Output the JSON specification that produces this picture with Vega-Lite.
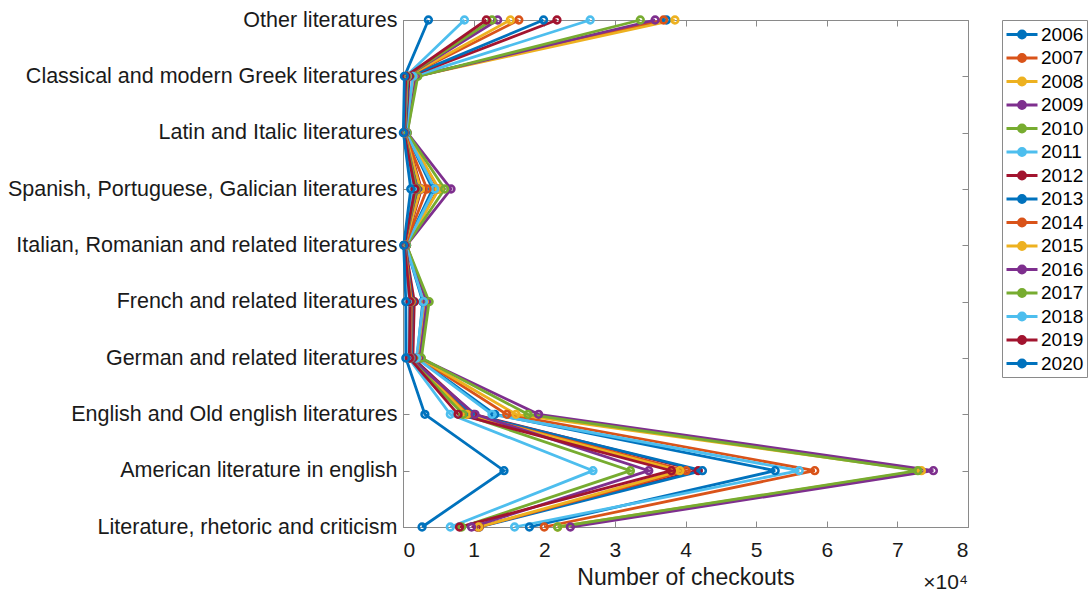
{
  "$schema": "https://vega.github.io/schema/vega-lite/v6.json",
  "width": 565,
  "height": 507,
  "autosize": {"type": "none"},
  "padding": {"left": 403, "top": 20, "right": 123, "bottom": 67},
  "background": "white",
  "config": {
    "view": {"stroke": "#8a8a8a", "strokeWidth": 1},
    "font": "Liberation Sans",
    "axis": {"grid": false, "domainColor": "#8a8a8a", "tickColor": "#8a8a8a", "labelColor": "#1a1a1a", "titleColor": "#1a1a1a", "labelFont": "Liberation Sans", "titleFont": "Liberation Sans"}
  },
  "title": {"text": "×10⁴", "orient": "bottom", "anchor": "end", "frame": "group", "fontSize": 21, "fontWeight": "normal", "color": "#1a1a1a", "offset": -17, "font": "Liberation Sans"},
  "data": {"values": [
    {"yr":"2006","c":"Other literatures","k":1,"v":37300},{"yr":"2007","c":"Other literatures","k":1,"v":36900},{"yr":"2008","c":"Other literatures","k":1,"v":38500},{"yr":"2009","c":"Other literatures","k":1,"v":35700},{"yr":"2010","c":"Other literatures","k":1,"v":33600},{"yr":"2011","c":"Other literatures","k":1,"v":26500},{"yr":"2012","c":"Other literatures","k":1,"v":21800},{"yr":"2013","c":"Other literatures","k":1,"v":19900},{"yr":"2014","c":"Other literatures","k":1,"v":16400},{"yr":"2015","c":"Other literatures","k":1,"v":15200},{"yr":"2016","c":"Other literatures","k":1,"v":13400},{"yr":"2017","c":"Other literatures","k":1,"v":12600},{"yr":"2018","c":"Other literatures","k":1,"v":8700},{"yr":"2019","c":"Other literatures","k":1,"v":11800},{"yr":"2020","c":"Other literatures","k":1,"v":3600},
    {"yr":"2006","c":"Classical and modern Greek literatures","k":2,"v":1500},{"yr":"2007","c":"Classical and modern Greek literatures","k":2,"v":1700},{"yr":"2008","c":"Classical and modern Greek literatures","k":2,"v":1800},{"yr":"2009","c":"Classical and modern Greek literatures","k":2,"v":1900},{"yr":"2010","c":"Classical and modern Greek literatures","k":2,"v":2100},{"yr":"2011","c":"Classical and modern Greek literatures","k":2,"v":1400},{"yr":"2012","c":"Classical and modern Greek literatures","k":2,"v":900},{"yr":"2013","c":"Classical and modern Greek literatures","k":2,"v":700},{"yr":"2014","c":"Classical and modern Greek literatures","k":2,"v":600},{"yr":"2015","c":"Classical and modern Greek literatures","k":2,"v":600},{"yr":"2016","c":"Classical and modern Greek literatures","k":2,"v":500},{"yr":"2017","c":"Classical and modern Greek literatures","k":2,"v":500},{"yr":"2018","c":"Classical and modern Greek literatures","k":2,"v":400},{"yr":"2019","c":"Classical and modern Greek literatures","k":2,"v":400},{"yr":"2020","c":"Classical and modern Greek literatures","k":2,"v":200},
    {"yr":"2006","c":"Latin and Italic literatures","k":3,"v":400},{"yr":"2007","c":"Latin and Italic literatures","k":3,"v":500},{"yr":"2008","c":"Latin and Italic literatures","k":3,"v":500},{"yr":"2009","c":"Latin and Italic literatures","k":3,"v":600},{"yr":"2010","c":"Latin and Italic literatures","k":3,"v":600},{"yr":"2011","c":"Latin and Italic literatures","k":3,"v":400},{"yr":"2012","c":"Latin and Italic literatures","k":3,"v":300},{"yr":"2013","c":"Latin and Italic literatures","k":3,"v":300},{"yr":"2014","c":"Latin and Italic literatures","k":3,"v":200},{"yr":"2015","c":"Latin and Italic literatures","k":3,"v":200},{"yr":"2016","c":"Latin and Italic literatures","k":3,"v":200},{"yr":"2017","c":"Latin and Italic literatures","k":3,"v":200},{"yr":"2018","c":"Latin and Italic literatures","k":3,"v":150},{"yr":"2019","c":"Latin and Italic literatures","k":3,"v":150},{"yr":"2020","c":"Latin and Italic literatures","k":3,"v":50},
    {"yr":"2006","c":"Spanish, Portuguese, Galician literatures","k":4,"v":4200},{"yr":"2007","c":"Spanish, Portuguese, Galician literatures","k":4,"v":5000},{"yr":"2008","c":"Spanish, Portuguese, Galician literatures","k":4,"v":5100},{"yr":"2009","c":"Spanish, Portuguese, Galician literatures","k":4,"v":6800},{"yr":"2010","c":"Spanish, Portuguese, Galician literatures","k":4,"v":5900},{"yr":"2011","c":"Spanish, Portuguese, Galician literatures","k":4,"v":4500},{"yr":"2012","c":"Spanish, Portuguese, Galician literatures","k":4,"v":2600},{"yr":"2013","c":"Spanish, Portuguese, Galician literatures","k":4,"v":2300},{"yr":"2014","c":"Spanish, Portuguese, Galician literatures","k":4,"v":3400},{"yr":"2015","c":"Spanish, Portuguese, Galician literatures","k":4,"v":2500},{"yr":"2016","c":"Spanish, Portuguese, Galician literatures","k":4,"v":2000},{"yr":"2017","c":"Spanish, Portuguese, Galician literatures","k":4,"v":1900},{"yr":"2018","c":"Spanish, Portuguese, Galician literatures","k":4,"v":1500},{"yr":"2019","c":"Spanish, Portuguese, Galician literatures","k":4,"v":1700},{"yr":"2020","c":"Spanish, Portuguese, Galician literatures","k":4,"v":1100},
    {"yr":"2006","c":"Italian, Romanian and related literatures","k":5,"v":400},{"yr":"2007","c":"Italian, Romanian and related literatures","k":5,"v":500},{"yr":"2008","c":"Italian, Romanian and related literatures","k":5,"v":500},{"yr":"2009","c":"Italian, Romanian and related literatures","k":5,"v":500},{"yr":"2010","c":"Italian, Romanian and related literatures","k":5,"v":500},{"yr":"2011","c":"Italian, Romanian and related literatures","k":5,"v":400},{"yr":"2012","c":"Italian, Romanian and related literatures","k":5,"v":300},{"yr":"2013","c":"Italian, Romanian and related literatures","k":5,"v":300},{"yr":"2014","c":"Italian, Romanian and related literatures","k":5,"v":300},{"yr":"2015","c":"Italian, Romanian and related literatures","k":5,"v":200},{"yr":"2016","c":"Italian, Romanian and related literatures","k":5,"v":200},{"yr":"2017","c":"Italian, Romanian and related literatures","k":5,"v":200},{"yr":"2018","c":"Italian, Romanian and related literatures","k":5,"v":200},{"yr":"2019","c":"Italian, Romanian and related literatures","k":5,"v":200},{"yr":"2020","c":"Italian, Romanian and related literatures","k":5,"v":100},
    {"yr":"2006","c":"French and related literatures","k":6,"v":2800},{"yr":"2007","c":"French and related literatures","k":6,"v":3100},{"yr":"2008","c":"French and related literatures","k":6,"v":3300},{"yr":"2009","c":"French and related literatures","k":6,"v":3400},{"yr":"2010","c":"French and related literatures","k":6,"v":3700},{"yr":"2011","c":"French and related literatures","k":6,"v":2900},{"yr":"2012","c":"French and related literatures","k":6,"v":1600},{"yr":"2013","c":"French and related literatures","k":6,"v":1300},{"yr":"2014","c":"French and related literatures","k":6,"v":1200},{"yr":"2015","c":"French and related literatures","k":6,"v":1100},{"yr":"2016","c":"French and related literatures","k":6,"v":1000},{"yr":"2017","c":"French and related literatures","k":6,"v":1000},{"yr":"2018","c":"French and related literatures","k":6,"v":900},{"yr":"2019","c":"French and related literatures","k":6,"v":1000},{"yr":"2020","c":"French and related literatures","k":6,"v":400},
    {"yr":"2006","c":"German and related literatures","k":7,"v":2000},{"yr":"2007","c":"German and related literatures","k":7,"v":2200},{"yr":"2008","c":"German and related literatures","k":7,"v":2300},{"yr":"2009","c":"German and related literatures","k":7,"v":2400},{"yr":"2010","c":"German and related literatures","k":7,"v":2600},{"yr":"2011","c":"German and related literatures","k":7,"v":1900},{"yr":"2012","c":"German and related literatures","k":7,"v":1400},{"yr":"2013","c":"German and related literatures","k":7,"v":1200},{"yr":"2014","c":"German and related literatures","k":7,"v":1100},{"yr":"2015","c":"German and related literatures","k":7,"v":1000},{"yr":"2016","c":"German and related literatures","k":7,"v":1000},{"yr":"2017","c":"German and related literatures","k":7,"v":900},{"yr":"2018","c":"German and related literatures","k":7,"v":800},{"yr":"2019","c":"German and related literatures","k":7,"v":900},{"yr":"2020","c":"German and related literatures","k":7,"v":400},
    {"yr":"2006","c":"English and Old english literatures","k":8,"v":13000},{"yr":"2007","c":"English and Old english literatures","k":8,"v":14700},{"yr":"2008","c":"English and Old english literatures","k":8,"v":16000},{"yr":"2009","c":"English and Old english literatures","k":8,"v":19200},{"yr":"2010","c":"English and Old english literatures","k":8,"v":17700},{"yr":"2011","c":"English and Old english literatures","k":8,"v":12600},{"yr":"2012","c":"English and Old english literatures","k":8,"v":10000},{"yr":"2013","c":"English and Old english literatures","k":8,"v":9500},{"yr":"2014","c":"English and Old english literatures","k":8,"v":9200},{"yr":"2015","c":"English and Old english literatures","k":8,"v":9000},{"yr":"2016","c":"English and Old english literatures","k":8,"v":10200},{"yr":"2017","c":"English and Old english literatures","k":8,"v":8500},{"yr":"2018","c":"English and Old english literatures","k":8,"v":6700},{"yr":"2019","c":"English and Old english literatures","k":8,"v":7800},{"yr":"2020","c":"English and Old english literatures","k":8,"v":3100},
    {"yr":"2006","c":"American literature in english","k":9,"v":52700},{"yr":"2007","c":"American literature in english","k":9,"v":58300},{"yr":"2008","c":"American literature in english","k":9,"v":73400},{"yr":"2009","c":"American literature in english","k":9,"v":75100},{"yr":"2010","c":"American literature in english","k":9,"v":72900},{"yr":"2011","c":"American literature in english","k":9,"v":56100},{"yr":"2012","c":"American literature in english","k":9,"v":41800},{"yr":"2013","c":"American literature in english","k":9,"v":42400},{"yr":"2014","c":"American literature in english","k":9,"v":40100},{"yr":"2015","c":"American literature in english","k":9,"v":39200},{"yr":"2016","c":"American literature in english","k":9,"v":34800},{"yr":"2017","c":"American literature in english","k":9,"v":32200},{"yr":"2018","c":"American literature in english","k":9,"v":26900},{"yr":"2019","c":"American literature in english","k":9,"v":38000},{"yr":"2020","c":"American literature in english","k":9,"v":14300},
    {"yr":"2006","c":"Literature, rhetoric and criticism","k":10,"v":17900},{"yr":"2007","c":"Literature, rhetoric and criticism","k":10,"v":20000},{"yr":"2008","c":"Literature, rhetoric and criticism","k":10,"v":21900},{"yr":"2009","c":"Literature, rhetoric and criticism","k":10,"v":23700},{"yr":"2010","c":"Literature, rhetoric and criticism","k":10,"v":21900},{"yr":"2011","c":"Literature, rhetoric and criticism","k":10,"v":15800},{"yr":"2012","c":"Literature, rhetoric and criticism","k":10,"v":10500},{"yr":"2013","c":"Literature, rhetoric and criticism","k":10,"v":10800},{"yr":"2014","c":"Literature, rhetoric and criticism","k":10,"v":10800},{"yr":"2015","c":"Literature, rhetoric and criticism","k":10,"v":10700},{"yr":"2016","c":"Literature, rhetoric and criticism","k":10,"v":9700},{"yr":"2017","c":"Literature, rhetoric and criticism","k":10,"v":8300},{"yr":"2018","c":"Literature, rhetoric and criticism","k":10,"v":6700},{"yr":"2019","c":"Literature, rhetoric and criticism","k":10,"v":8000},{"yr":"2020","c":"Literature, rhetoric and criticism","k":10,"v":2700}
  ]},
  "resolve": {"axis": {"x": "independent", "y": "independent"}},
  "layer": [
    {
      "mark": {"type": "line", "strokeWidth": 2.8, "point": {"filled": false, "size": 45, "strokeWidth": 2.6}},
      "encoding": {
        "x": {"field": "v", "type": "quantitative", "scale": {"domain": [0, 80000], "nice": false, "zero": true},
          "axis": {"orient": "bottom", "title": "Number of checkouts", "values": [0,10000,20000,30000,40000,50000,60000,70000,80000], "labelExpr": "datum.value/10000", "labelFontSize": 21, "titleFontSize": 23, "titleFontWeight": "normal", "tickSize": -6, "labelPadding": 18, "titlePadding": 6, "domain": true}},
        "y": {"field": "c", "type": "ordinal",
          "sort": ["Other literatures","Classical and modern Greek literatures","Latin and Italic literatures","Spanish, Portuguese, Galician literatures","Italian, Romanian and related literatures","French and related literatures","German and related literatures","English and Old english literatures","American literature in english","Literature, rhetoric and criticism"],
          "scale": {"type": "point", "padding": 0},
          "axis": {"orient": "left", "title": null, "labelFontSize": 21.5, "tickSize": -6, "labelPadding": 12, "labelLimit": 420}},
        "color": {"field": "yr", "type": "nominal",
          "scale": {"domain": ["2006","2007","2008","2009","2010","2011","2012","2013","2014","2015","2016","2017","2018","2019","2020"],
            "range": ["#0072BD","#D95319","#EDB120","#7E2F8E","#77AC30","#4DBEEE","#A2142F","#0072BD","#D95319","#EDB120","#7E2F8E","#77AC30","#4DBEEE","#A2142F","#0072BD"]},
          "legend": {"orient": "none", "legendX": 599, "legendY": 0, "title": null, "strokeColor": "#8a8a8a", "fillColor": "white", "padding": 3,
            "symbolType": "M-1.55,0H1.55M-0.35,0A0.35,0.35 0 1,0 0.35,0A0.35,0.35 0 1,0 -0.35,0Z", "symbolSize": 400, "symbolStrokeWidth": 2.8, "symbolOffset": 5.5,
            "labelFontSize": 19, "labelOffset": 7.5, "rowPadding": 1.5, "labelColor": "#000000",
            "encode": {"symbols": {"update": {"fill": {"scale": "color", "field": "value"}}}}}},
        "order": {"field": "k", "type": "quantitative"}
      }
    },
    {
      "mark": {"type": "point", "opacity": 0},
      "encoding": {
        "x": {"field": "v", "type": "quantitative", "axis": {"orient": "top", "title": null, "labels": false, "values": [0,10000,20000,30000,40000,50000,60000,70000,80000], "tickSize": -6, "domain": false}},
        "y": {"field": "c", "type": "ordinal",
          "sort": ["Other literatures","Classical and modern Greek literatures","Latin and Italic literatures","Spanish, Portuguese, Galician literatures","Italian, Romanian and related literatures","French and related literatures","German and related literatures","English and Old english literatures","American literature in english","Literature, rhetoric and criticism"],
          "axis": {"orient": "right", "title": null, "labels": false, "tickSize": -6, "domain": false}}
      }
    }
  ]
}
